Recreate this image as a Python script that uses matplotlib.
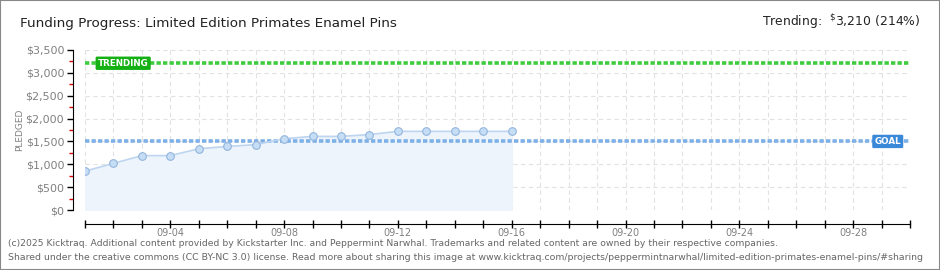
import matplotlib
matplotlib.use("Agg")
import matplotlib.pyplot as plt
import matplotlib.ticker as mticker
from matplotlib.patches import Rectangle

# funding data
days = list(range(1, 17))
pledged = [850, 1020, 1190, 1190, 1340, 1390, 1430, 1560, 1610, 1610, 1650, 1720, 1720, 1720, 1720, 1720]
goal = 1500
trending = 3210
month_days = list(range(1, 31))
label_days = [4, 8, 12, 16, 20, 24, 28]

plt.rcParams['font.family'] = ['DejaVu Sans']

fig = plt.figure(figsize=(9.4, 2.7), dpi=100)
ax = fig.add_axes([85 / 940, 60 / 270, 825 / 940, 160 / 270])

x = [d - 1 for d in days]
ax.fill_between(x, pledged, 0, color='#eef4fc', zorder=1)
ax.plot(x, pledged, color='#bdd5f0', lw=1.2, zorder=3)
ax.plot(x, pledged, 'o', ms=5.5, mfc='#c6ddf6', mec='#93b4dc', mew=0.8, zorder=4)

ax.axhline(goal, color='#7eb0e8', lw=2.6, ls=(0, (1.2, 0.6)), zorder=2)
ax.axhline(trending, color='#3fcc3f', lw=2.6, ls=(0, (1.2, 0.6)), zorder=2)

ax.text(0.45, trending, 'TRENDING', color='white', fontsize=6.3, fontweight='bold',
        va='center', ha='left', zorder=5,
        bbox=dict(boxstyle='round,pad=0.25,rounding_size=0.15', fc='#14b014', ec='none'))
ax.text(27.75, goal, 'GOAL', color='white', fontsize=6.3, fontweight='bold',
        va='center', ha='left', zorder=5,
        bbox=dict(boxstyle='round,pad=0.25,rounding_size=0.15', fc='#3a88d8', ec='none'))

ax.set_xlim(0, 29)
ax.set_ylim(0, 3500)
ax.set_xticks([d - 1 for d in month_days])
ax.set_xticklabels(['09-%02d' % d if d in label_days else '' for d in month_days])
ax.yaxis.set_major_locator(mticker.MultipleLocator(500))
ax.yaxis.set_minor_locator(mticker.MultipleLocator(250))
ax.yaxis.set_major_formatter(mticker.FuncFormatter(lambda v, p: '${:,.0f}'.format(v)))
ax.grid(True, which='major', color='#e2e2e2', ls=(0, (4, 3)), lw=0.8)
ax.set_axisbelow(True)

for s in ['top', 'right']:
    ax.spines[s].set_visible(False)
ax.spines['left'].set_position(('outward', 9))
ax.spines['bottom'].set_position(('outward', 10))
ax.spines['left'].set_bounds(0, 3500)
ax.tick_params(axis='y', which='major', length=4, width=1, direction='out', labelsize=8,
               labelcolor='#808080', pad=2)
ax.tick_params(axis='y', which='minor', length=3, width=1, color='#dd0000', direction='out')
ax.tick_params(axis='x', length=6, width=1, direction='inout', labelsize=7,
               labelcolor='#808080', pad=0)
ax.set_ylabel('PLEDGED', color='#808080', fontsize=6.5, labelpad=1)

fig.text(20 / 940, 1 - 24 / 270, 'Funding Progress: Limited Edition Primates Enamel Pins',
         fontsize=9.7, color='#222222', va='center', ha='left')
fig.text(920 / 940, 1 - 22 / 270, 'Trending:  $^{\\$}$3,210 (214%)',
         fontsize=8.9, color='#222222', va='center', ha='right')
fig.text(8 / 940, 1 - 243 / 270,
         '(c)2025 Kicktraq. Additional content provided by Kickstarter Inc. and Peppermint Narwhal. '
         'Trademarks and related content are owned by their respective companies.',
         fontsize=6.65, color='#666666', va='center', ha='left')
fig.text(8 / 940, 1 - 257 / 270,
         'Shared under the creative commons (CC BY-NC 3.0) license. Read more about sharing this image at '
         'www.kicktraq.com/projects/peppermintnarwhal/limited-edition-primates-enamel-pins/#sharing',
         fontsize=6.75, color='#666666', va='center', ha='left')

fig.patches.append(Rectangle((0, 0), 1, 1, transform=fig.transFigure, fill=False,
                             ec='#888888', lw=1.5))

fig.savefig('out.png', dpi=100)
